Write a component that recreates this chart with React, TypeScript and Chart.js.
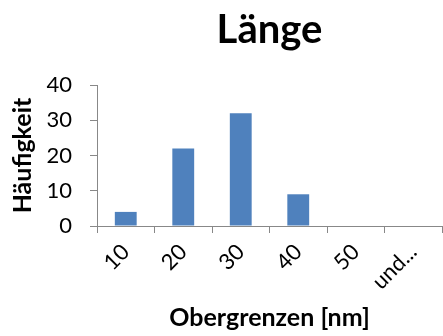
import React, { useEffect, useRef } from "react";
import { Chart, registerables } from "chart.js";

Chart.register(...registerables);

const categories = ["10", "20", "30", "40", "50", "und..."];
const counts = [4, 22, 32, 9, 0, 0];
const yTicks = [0, 10, 20, 30, 40];
const chartTitle = "Länge";
const xTitle = "Obergrenzen [nm]";
const yTitle = "Häufigkeit";

export default function App() {
  const ref = useRef<HTMLCanvasElement>(null);
  useEffect(() => {
    document.body.style.margin = "0";
    const ctx = ref.current!;
    const font = "Lato, 'Open Sans', sans-serif";
    const chart = new Chart(ctx, {
      type: "bar",
      data: {
        labels: categories,
        datasets: [
          {
            data: counts,
            backgroundColor: "#4F81BD",
            barPercentage: 0.38,
            categoryPercentage: 1,
          },
        ],
      },
      options: {
        animation: false,
        responsive: false,
        maintainAspectRatio: false,
        layout: { padding: { left: 0, right: 1, top: 6, bottom: 3 } },
        plugins: {
          legend: { display: false },
          tooltip: { enabled: false },
          title: {
            display: true,
            fullSize: false,
            text: chartTitle,
            color: "#000",
            font: { family: font, size: 40, weight: "bold" },
            padding: { top: 0, bottom: 31 },
          },
        },
        scales: {
          x: {
            afterFit: (scale: any) => {
              scale.height = 107;
            },
            grid: {
              offset: true,
              drawOnChartArea: false,
              drawTicks: true,
              tickLength: 7,
              color: "#888",
            },
            border: { color: "#888" },
            ticks: {
              minRotation: 45,
              maxRotation: 45,
              color: "#000",
              font: { family: font, size: 22 },
              padding: 6,
            },
            title: {
              display: true,
              text: xTitle,
              color: "#000",
              font: { family: font, size: 25, weight: "bold" },
              padding: { top: 12, bottom: 0 },
            },
          },
          y: {
            min: 0,
            max: 40,
            afterFit: (scale: any) => {
              scale.width = 97;
            },
            afterBuildTicks: (axis: any) => {
              axis.ticks = yTicks.map((v) => ({ value: v }));
            },
            grid: {
              drawOnChartArea: false,
              drawTicks: true,
              tickLength: 7,
              color: "#888",
            },
            border: { color: "#888" },
            ticks: {
              color: "#000",
              font: { family: font, size: 22 },
              padding: 18,
            },
            title: {
              display: true,
              text: yTitle,
              color: "#000",
              font: { family: font, size: 25, weight: "bold" },
              padding: { top: 8, bottom: 9 },
            },
          },
        },
      },
    });
    return () => chart.destroy();
  }, []);
  return (
    <div style={{ width: 443, height: 336, position: "relative" }}>
      <canvas ref={ref} width={443} height={336} />
    </div>
  );
}
